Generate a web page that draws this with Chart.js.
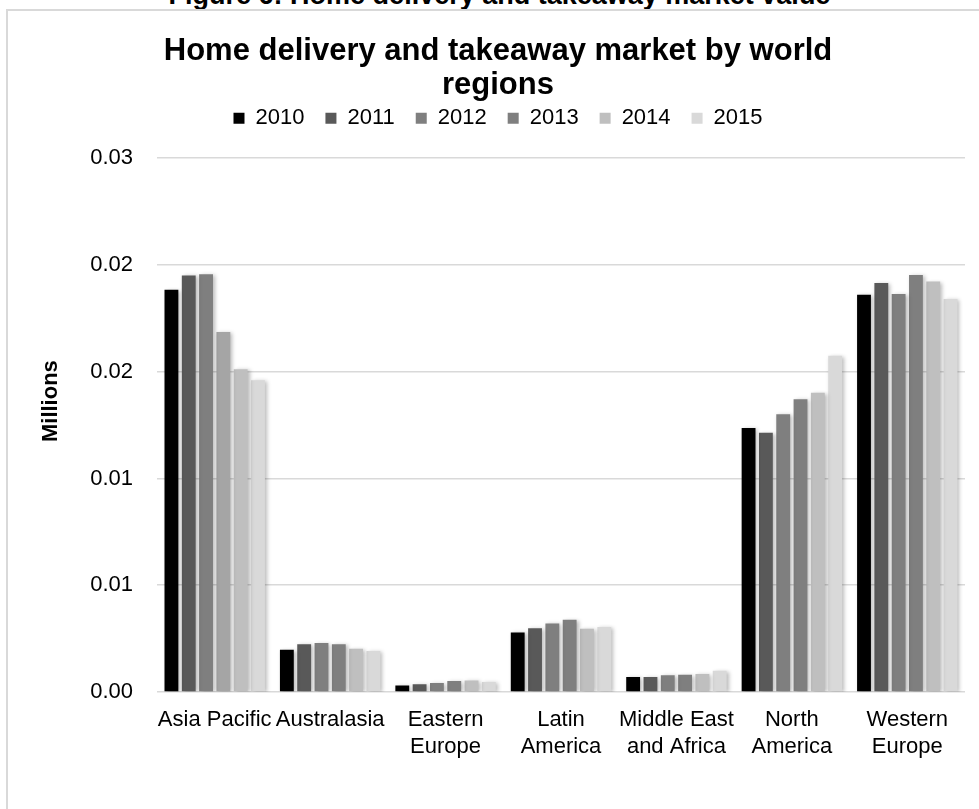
<!DOCTYPE html>
<html>
<head>
<meta charset="utf-8">
<title>Home delivery and takeaway market</title>
<script src="https://cdn.jsdelivr.net/npm/chart.js@4.4.1/dist/chart.umd.min.js"></script>
<style>
    html, body {
        margin: 0;
        padding: 0;
        width: 979px;
        height: 809px;
        overflow: hidden;
        background: #ffffff;
        font-family: "Liberation Sans", Arial, sans-serif;
    }
    .figure-caption {
        position: absolute;
        left: 0;
        top: -18px;
        width: 999px;
        text-align: center;
        font-weight: bold;
        font-size: 27px;
        line-height: 27px;
        color: #000;
        white-space: nowrap;
    }
    .frame {
        position: absolute;
        left: 6px;
        top: 9px;
        width: 1000px;
        height: 900px;
        border: 2px solid #d9d9d9;
    }
    .chart-box {
        position: absolute;
        left: 8px;
        top: 11px;
        width: 971px;
        height: 798px;
    }
</style>
</head>
<body>
<div class="figure-caption">Figure 6: Home delivery and takeaway market value</div>
<div class="frame"></div>
<div class="chart-box"><canvas id="market-chart"></canvas></div>

<script>
// Regions and yearly market values (millions)
const regions = [
    'Asia Pacific',
    'Australasia',
    ['Eastern', 'Europe'],
    ['Latin', 'America'],
    ['Middle East', 'and Africa'],
    ['North', 'America'],
    ['Western', 'Europe']
];
const years = ['2010', '2011', '2012', '2013', '2014', '2015'];

const values2010 = [0.01884, 0.00198, 0.00030, 0.00279, 0.00070, 0.01237, 0.01860];
const values2011 = [0.01951, 0.00224, 0.00036, 0.00299, 0.00070, 0.01214, 0.01916];
const values2012 = [0.01957, 0.00230, 0.00042, 0.00321, 0.00078, 0.01301, 0.01864];
const values2013 = [0.01686, 0.00224, 0.00051, 0.00338, 0.00081, 0.01371, 0.01953];
const values2014 = [0.01512, 0.00202, 0.00054, 0.00296, 0.00084, 0.01402, 0.01922];
const values2015 = [0.01460, 0.00192, 0.00047, 0.00305, 0.00100, 0.01575, 0.01840];

const yearColors = ['#000000', '#595959', '#7f7f7f', '#7f7f7f', '#bfbfbf', '#d9d9d9'];
// 2013 Asia Pacific bar is filled lighter than the rest of the series
const colors2013 = ['#a5a5a5', '#7f7f7f', '#7f7f7f', '#7f7f7f', '#7f7f7f', '#7f7f7f', '#7f7f7f'];

// Axis labels are rounded to two decimals, so 0.005 steps repeat
const yTickLabels = ['0.00', '0.01', '0.01', '0.02', '0.02', '0.03'];

const FONT = '"Liberation Sans", Arial, sans-serif';

const seriesValues = [values2010, values2011, values2012, values2013, values2014, values2015];

const datasets = years.map((year, i) => ({
    label: year,
    data: seriesValues[i],
    backgroundColor: i === 3 ? colors2013 : yearColors[i],
    borderWidth: 0,
    categoryPercentage: 0.9,
    barPercentage: 0.8
}));

// Soft drop shadow behind the bars
const barShadow = {
    id: 'barShadow',
    beforeDatasetsDraw(chart) {
        const ctx = chart.ctx;
        ctx.save();
        ctx.shadowColor = 'rgba(0, 0, 0, 0.28)';
        ctx.shadowBlur = 4;
        ctx.shadowOffsetX = 2;
        ctx.shadowOffsetY = 1;
    },
    afterDatasetsDraw(chart) {
        chart.ctx.restore();
    }
};

// Vertical axis title, sitting a little above the middle of the plot
const axisTitle = {
    id: 'axisTitle',
    afterDraw(chart) {
        const ctx = chart.ctx;
        const area = chart.chartArea;
        ctx.save();
        ctx.translate(43, (area.top + area.bottom) / 2 - 24);
        ctx.rotate(-Math.PI / 2);
        ctx.font = 'bold 22px ' + FONT;
        ctx.fillStyle = '#000';
        ctx.textAlign = 'center';
        ctx.textBaseline = 'middle';
        ctx.fillText('Millions', 0, 0);
        ctx.restore();
    }
};

const ctx = document.getElementById('market-chart');
new Chart(ctx, {
    type: 'bar',
    data: {
        labels: regions,
        datasets: datasets
    },
    options: {
        responsive: true,
        maintainAspectRatio: false,
        animation: false,
        layout: {
            padding: { left: 23, right: 14, top: 0, bottom: 0 }
        },
        plugins: {
            title: {
                display: true,
                text: ['Home delivery and takeaway market by world', 'regions'],
                color: '#000',
                font: { family: FONT, size: 31, weight: 'bold', lineHeight: 1.1 },
                padding: { top: 23, bottom: -16 }
            },
            legend: {
                display: true,
                position: 'top',
                labels: {
                    color: '#000',
                    font: { family: FONT, size: 22 },
                    boxWidth: 11,
                    boxHeight: 11,
                    padding: 21,
                    // one swatch per year, using the series colour
                    generateLabels: (chart) => years.map((year, i) => ({
                        text: year,
                        fillStyle: yearColors[i],
                        strokeStyle: yearColors[i],
                        lineWidth: 0,
                        fontColor: '#000',
                        hidden: !chart.isDatasetVisible(i),
                        datasetIndex: i
                    }))
                }
            },
            tooltip: { enabled: false }
        },
        scales: {
            x: {
                grid: { display: false },
                border: { display: false },
                ticks: {
                    color: '#000',
                    font: { family: FONT, size: 22, lineHeight: 1.2 },
                    padding: 7,
                    maxRotation: 0,
                    autoSkip: false
                },
                afterFit(scale) {
                    scale.height = 117;
                }
            },
            // empty band between the legend and the plot
            xTop: {
                type: 'category',
                position: 'top',
                grid: { display: false },
                border: { display: false },
                ticks: { display: false },
                afterFit(scale) {
                    scale.height = 19;
                }
            },
            y: {
                min: 0,
                max: 0.025,
                grid: {
                    color: '#d9d9d9',
                    lineWidth: 1.5,
                    drawTicks: false
                },
                border: { display: false },
                ticks: {
                    stepSize: 0.005,
                    color: '#000',
                    font: { family: FONT, size: 22 },
                    padding: 24,
                    callback: (value, index) => yTickLabels[index]
                },
                afterFit(scale) {
                    scale.width = 126;
                }
            }
        }
    },
    plugins: [barShadow, axisTitle]
});
</script>
</body>
</html>
